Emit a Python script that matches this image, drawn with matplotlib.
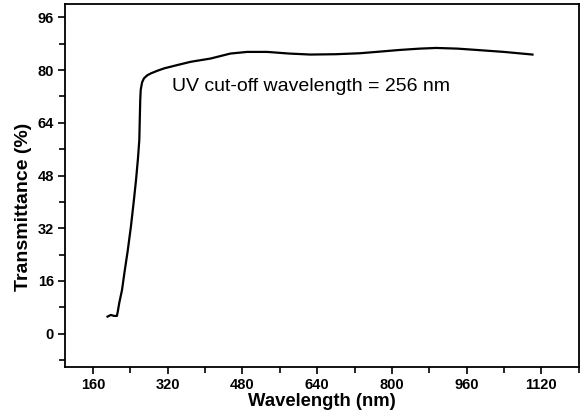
import matplotlib
matplotlib.use("Agg")
import matplotlib.pyplot as plt
from matplotlib.ticker import MultipleLocator

plt.rcParams['font.family'] = ['Liberation Sans', 'DejaVu Sans']

# UV-Vis transmittance spectrum
wavelength = [191, 198, 205, 211, 213, 216, 222, 227, 234, 241, 247, 252, 256,
              259, 260, 261, 262, 265, 269, 276, 284, 298, 312, 340, 369, 412,
              454, 490, 533, 580, 625, 680, 732, 775, 817, 860, 895, 940, 981,
              1040, 1101]
transmittance = [5.2, 5.7, 5.4, 5.4, 6.8, 9.3, 13.3, 18.4, 25.0, 32.5, 40.0,
                 46.7, 53.0, 58.8, 65.0, 70.9, 74.0, 76.3, 77.5, 78.4, 79.0,
                 79.8, 80.5, 81.5, 82.5, 83.5, 85.0, 85.5, 85.5, 85.0, 84.7,
                 84.8, 85.1, 85.6, 86.1, 86.5, 86.7, 86.5, 86.1, 85.5, 84.7]

fig = plt.figure(figsize=(5.81, 4.12), dpi=100)
ax = fig.add_axes([0.112, 0.110, 0.884, 0.880])

ax.plot(wavelength, transmittance, color='black', lw=1.6)

ax.set_xlim(100, 1200)
ax.set_ylim(-10, 100)
ax.xaxis.set_minor_locator(MultipleLocator(80))
ax.yaxis.set_minor_locator(MultipleLocator(8))
ax.set_xticks(range(160, 1121, 160))
ax.set_yticks(range(0, 97, 16))

ax.tick_params(which='both', direction='out', top=False, right=False, width=1.2)
ax.tick_params(which='major', length=5, labelsize=10.5, pad=3)
ax.tick_params(which='minor', length=4)
for lab in ax.get_xticklabels() + ax.get_yticklabels():
    lab.set_fontweight('bold')
for sp in ax.spines.values():
    sp.set_linewidth(1.3)

ax.set_xlabel('Wavelength (nm)', fontsize=13.3, fontweight='bold', labelpad=1)
ax.set_ylabel('Transmittance (%)', fontsize=14, fontweight='bold')
ax.yaxis.set_label_coords(-0.064, 0.44)

ax.text(330, 75, 'UV cut-off wavelength = 256 nm', fontsize=14, va='center')

fig.savefig('out.png', dpi=100)
